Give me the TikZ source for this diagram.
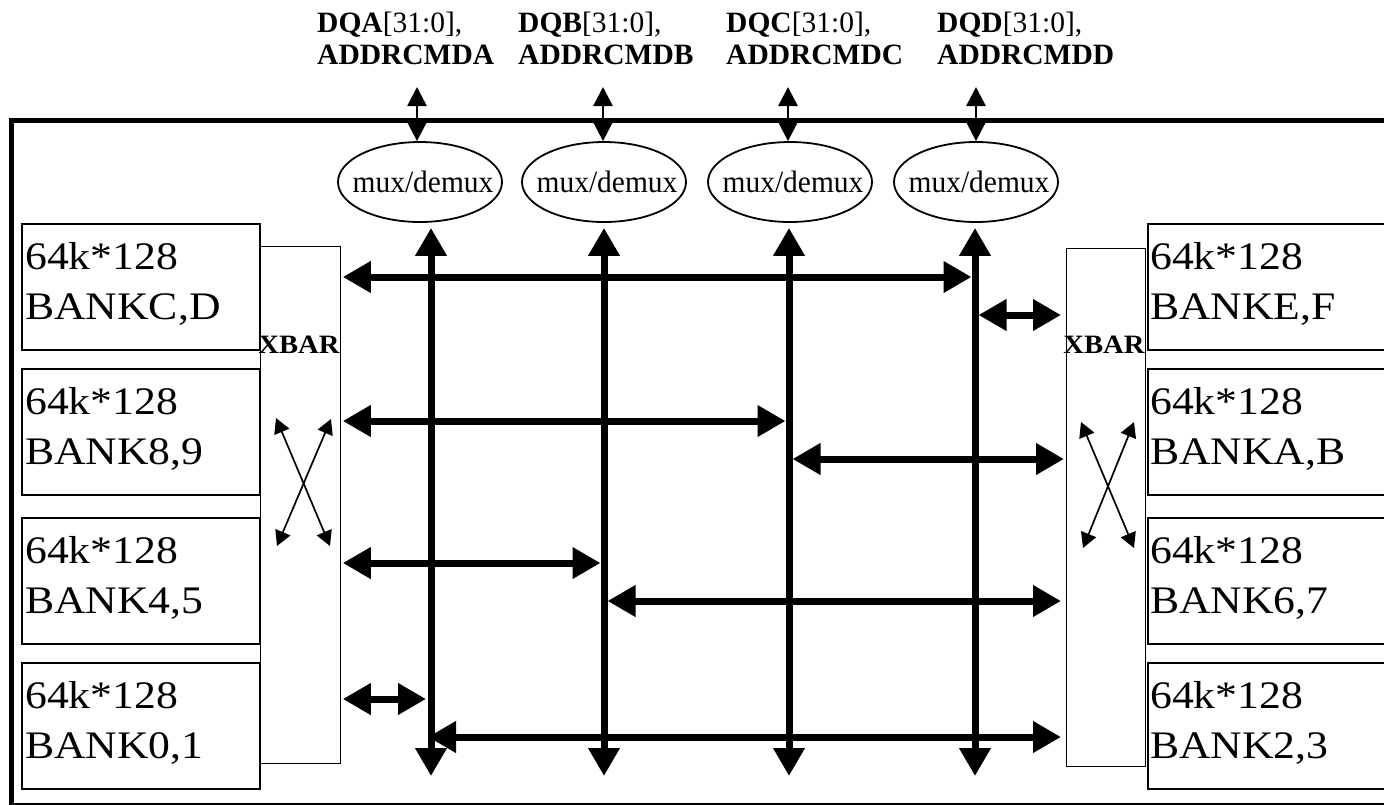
\documentclass[tikz,border=0pt]{standalone}
\usepackage{fontspec}
\setmainfont{Liberation Serif}
\newfontfamily\wideserif[FakeStretch=1.12]{Liberation Serif}
\newfontfamily\xbarserif[FakeStretch=1.08]{Liberation Serif}
\newfontfamily\muxserif[FakeStretch=0.95]{Liberation Serif}
\usetikzlibrary{arrows.meta,shapes.geometric,calc}
\begin{document}
\begin{tikzpicture}[x=1pt,y=-1pt,
  bankbox/.style={draw,line width=2pt,minimum width=238pt,minimum height=126pt,anchor=north west,inner sep=0pt},
  banktext/.style={font=\wideserif\fontsize{39}{50}\selectfont,inner sep=0pt,anchor=base west},
  toplabel/.style={font=\fontsize{29.5}{32}\selectfont,inner sep=0pt,anchor=base west},
  xbarbox/.style={draw,line width=1.3pt,anchor=north west,inner sep=0pt},
  xbartext/.style={font=\xbarserif\bfseries\fontsize{26.5}{30}\selectfont,inner sep=0pt,anchor=base},
  muxell/.style={ellipse,draw,line width=1.8pt,minimum width=164pt,minimum height=80pt,inner sep=0pt,font=\muxserif\fontsize{31}{33}\selectfont},
  bigarrow/.style={line width=7pt,>={Triangle[length=28pt,width=30pt]},<->},
  smallarrow/.style={line width=2.7pt,>={Triangle[length=19pt,width=19pt]},<->},
  xarrow/.style={line width=1.7pt,>={Triangle[length=15pt,width=16pt]},<->}
]
\clip (0,0) rectangle (1384,804);
\fill[white] (0,0) rectangle (1384,804);

% outer frame
\draw[line width=5pt] (11,120) rectangle (1400,805);

% top labels
\node[toplabel] (lA) at (317,32) {\begin{tabular}[t]{@{}l@{}}\textbf{DQA}[31:0],\\\textbf{ADDRCMDA}\end{tabular}};
\node[toplabel] (lB) at (518,32) {\begin{tabular}[t]{@{}l@{}}\textbf{DQB}[31:0],\\\textbf{ADDRCMDB}\end{tabular}};
\node[toplabel] (lC) at (726,32) {\begin{tabular}[t]{@{}l@{}}\textbf{DQC}[31:0],\\\textbf{ADDRCMDC}\end{tabular}};
\node[toplabel] (lD) at (937,32) {\begin{tabular}[t]{@{}l@{}}\textbf{DQD}[31:0],\\\textbf{ADDRCMDD}\end{tabular}};

% mux/demux ellipses
\node[muxell] (m1) at (420,182) {\makebox[0pt]{\hspace*{6pt}mux/demux}};
\node[muxell] (m2) at (604,182) {\makebox[0pt]{\hspace*{6pt}mux/demux}};
\node[muxell] (m3) at (790,182) {\makebox[0pt]{\hspace*{6pt}mux/demux}};
\node[muxell] (m4) at (976,182) {\makebox[0pt]{\hspace*{6pt}mux/demux}};

% external ports
\coordinate (p1) at (417,87);
\coordinate (p2) at (603,87);
\coordinate (p3) at (788,87);
\coordinate (p4) at (976,87);
\draw[smallarrow] (p1) -- (p1 |- m1.north);
\draw[smallarrow] (p2) -- (p2 |- m2.north);
\draw[smallarrow] (p3) -- (p3 |- m3.north);
\draw[smallarrow] (p4) -- (p4 |- m4.north);

% banks left
\node[bankbox] (bCD) at (21,223) {};
\node[bankbox] (b89) at (21,368) {};
\node[bankbox] (b45) at (21,517) {};
\node[bankbox] (b01) at (21,662) {};
\node[banktext] (tCD) at (25,269) {\begin{tabular}[t]{@{}l@{}}64k*128\\BANKC,D\end{tabular}};
\node[banktext] (t89) at (25,414) {\begin{tabular}[t]{@{}l@{}}64k*128\\BANK8,9\end{tabular}};
\node[banktext] (t45) at (25,563) {\begin{tabular}[t]{@{}l@{}}64k*128\\BANK4,5\end{tabular}};
\node[banktext] (t01) at (25,708) {\begin{tabular}[t]{@{}l@{}}64k*128\\BANK0,1\end{tabular}};

% banks right
\node[bankbox,minimum width=260pt] (bEF) at (1147,223) {};
\node[bankbox,minimum width=260pt] (bAB) at (1147,368) {};
\node[bankbox,minimum width=260pt] (b67) at (1147,517) {};
\node[bankbox,minimum width=260pt] (b23) at (1147,662) {};
\node[banktext] (tEF) at (1150,269) {\begin{tabular}[t]{@{}l@{}}64k*128\\BANKE,F\end{tabular}};
\node[banktext] (tAB) at (1150,414) {\begin{tabular}[t]{@{}l@{}}64k*128\\BANKA,B\end{tabular}};
\node[banktext] (t67) at (1150,563) {\begin{tabular}[t]{@{}l@{}}64k*128\\BANK6,7\end{tabular}};
\node[banktext] (t23) at (1150,708) {\begin{tabular}[t]{@{}l@{}}64k*128\\BANK2,3\end{tabular}};

% XBAR boxes
\node[xbarbox,minimum width=80pt,minimum height=517pt] (xl) at (260,246) {};
\node[xbarbox,minimum width=79pt,minimum height=518pt] (xr) at (1066,248) {};
\node[xbartext] (xlt) at (299,353) {XBAR};
\node[xbartext] (xrt) at (1104,353) {XBAR};

% crossing arrows inside XBARs
\coordinate (xla) at (276,418); \coordinate (xlb) at (330,546);
\coordinate (xlc) at (331,419); \coordinate (xld) at (277,546);
\draw[xarrow] (xla) -- (xlb);
\draw[xarrow] (xlc) -- (xld);
\coordinate (xra) at (1081,422); \coordinate (xrb) at (1134,548);
\coordinate (xrc) at (1134,422); \coordinate (xrd) at (1083,548);
\draw[xarrow] (xra) -- (xrb);
\draw[xarrow] (xrc) -- (xrd);

% vertical buses
\coordinate (b1) at (431,776);
\coordinate (b2) at (604,776);
\coordinate (b3) at (789,776);
\coordinate (b4) at (975,776);
\draw[bigarrow,shorten >=5pt] (b1) -- (b1 |- m1.south);
\draw[bigarrow,shorten >=5pt] (b2) -- (b2 |- m2.south);
\draw[bigarrow,shorten >=5pt] (b3) -- (b3 |- m3.south);
\draw[bigarrow,shorten >=5pt] (b4) -- (b4 |- m4.south);

% horizontal connections
\draw[bigarrow] ($(xl.east |- 0,277)+(1.5,0)$) -- ($(b4 |- 0,277)+(-3.5,0)$);
\draw[bigarrow] ($(b4 |- 0,315)+(3.5,0)$) -- ($(xr.west |- 0,315)+(-5,0)$);
\draw[bigarrow] ($(xl.east |- 0,421)+(1.5,0)$) -- ($(b3 |- 0,421)+(-3.5,0)$);
\draw[bigarrow] ($(b3 |- 0,459)+(3.5,0)$) -- ($(xr.west |- 0,459)+(-2,0)$);
\draw[bigarrow] ($(xl.east |- 0,563)+(1.5,0)$) -- ($(b2 |- 0,563)+(-3.5,0)$);
\draw[bigarrow] ($(b2 |- 0,601)+(3.5,0)$) -- ($(xr.west |- 0,601)+(-5,0)$);
\draw[bigarrow] ($(xl.east |- 0,699)+(1.5,0)$) -- ($(b1 |- 0,699)+(-5,0)$);
\draw[bigarrow] ($(b1 |- 0,737)+(-3,0)$) -- ($(xr.west |- 0,737)+(-5,0)$);
\end{tikzpicture}
\end{document}
